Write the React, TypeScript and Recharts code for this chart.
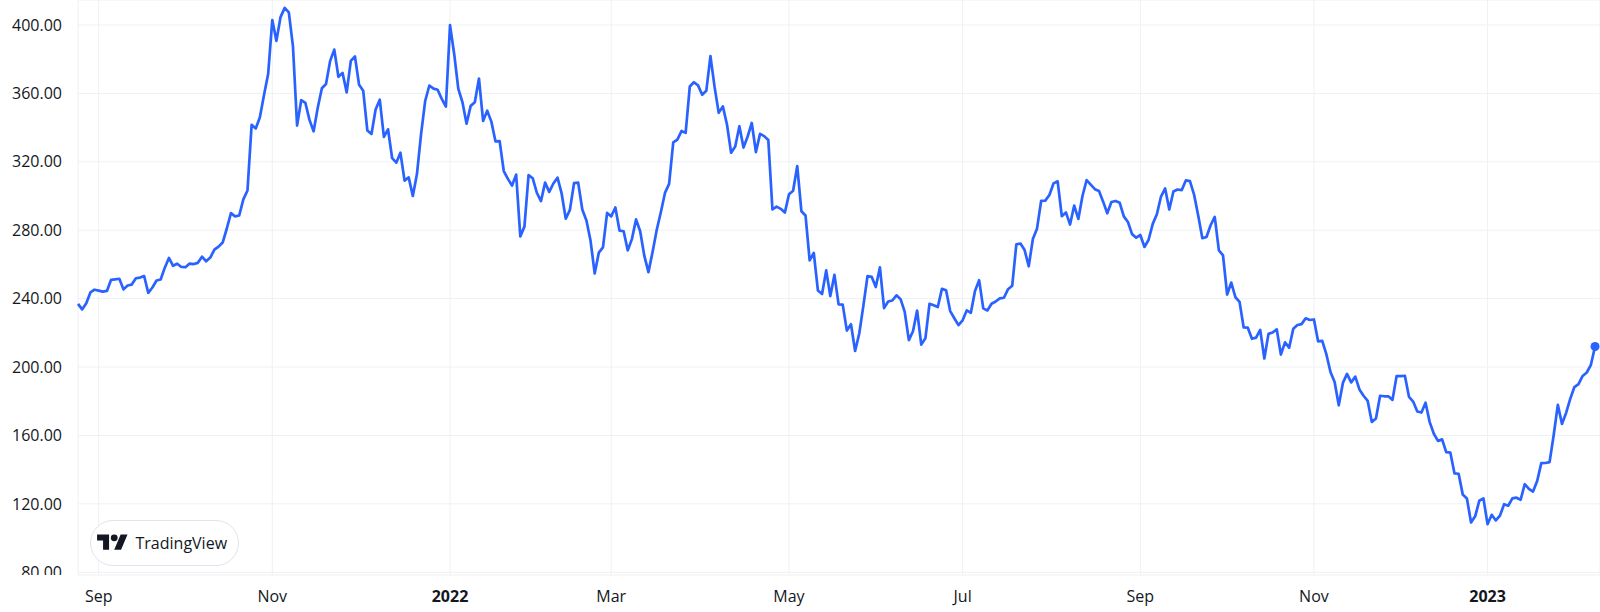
import { LineChart, Line, XAxis, YAxis, CartesianGrid, ReferenceDot } from 'recharts';

// daily closes, one array per month (trading days only)
const aug2021 = [236.9, 233.7, 237.3, 243.6, 245.2];
const sep2021 = [244.7, 244.1, 244.5, 251.0, 251.3, 251.6, 245.4, 247.7, 248.2, 251.9, 252.3, 253.2, 243.4, 246.5, 250.6, 251.2, 258.1, 263.8, 259.2, 260.4, 258.5];
const oct2021 = [258.4, 260.5, 260.2, 260.9, 264.5, 261.8, 264.0, 268.6, 270.4, 272.8, 281.0, 290.0, 288.1, 288.6, 298.0, 303.2, 341.6, 339.5, 346.0, 359.0, 371.3];
const nov2021 = [402.9, 390.7, 404.6, 410.0, 407.4, 387.6, 341.2, 356.0, 354.5, 344.5, 337.8, 351.6, 363.0, 365.5, 379.0, 385.6, 369.7, 372.0, 360.6, 379.0, 381.6];
const dec2021 = [365.0, 361.5, 338.3, 336.3, 350.6, 356.3, 334.6, 339.0, 322.1, 319.5, 325.3, 309.0, 310.9, 300.0, 312.8, 336.3, 355.7, 364.6, 362.8, 362.1, 356.8, 352.3];
const jan2022 = [399.9, 383.2, 362.7, 354.9, 342.3, 352.7, 354.8, 368.7, 343.9, 349.9, 343.5, 331.9, 332.1, 314.6, 310.0, 306.1, 312.5, 276.4, 282.1, 312.2];
const feb2022 = [310.4, 301.9, 297.0, 307.8, 302.4, 307.3, 310.7, 301.5, 286.7, 291.9, 307.5, 307.8, 292.1, 285.7, 273.8, 254.7, 266.9, 270.0, 290.1];
const mar2022 = [288.1, 293.3, 279.8, 279.4, 268.2, 274.8, 286.3, 279.4, 265.1, 255.5, 267.3, 280.1, 290.5, 301.8, 307.1, 331.3, 333.0, 338.0, 336.9, 364.0, 366.5, 364.7, 359.2];
const apr2022 = [361.5, 381.8, 363.8, 348.6, 352.4, 341.8, 325.3, 329.0, 340.8, 328.3, 334.8, 342.7, 325.7, 336.3, 335.0, 332.7, 292.1, 293.8, 292.5, 290.3];
const may2022 = [301.0, 303.1, 317.5, 291.1, 288.6, 262.4, 266.7, 244.7, 242.7, 256.5, 241.5, 253.9, 236.6, 236.5, 221.3, 225.0, 209.4, 219.6, 235.9, 253.2, 252.8];
const jun2022 = [246.8, 258.3, 234.5, 238.3, 238.9, 241.9, 239.7, 232.2, 215.7, 220.9, 233.0, 213.1, 216.8, 237.0, 236.1, 235.1, 245.7, 244.9, 232.7, 228.5, 224.5];
const jul2022 = [227.3, 233.1, 231.7, 244.5, 250.8, 234.3, 233.1, 237.0, 238.3, 240.1, 240.5, 245.5, 247.5, 271.7, 272.2, 268.4, 258.9, 274.8, 280.9, 297.1];
const aug2022 = [297.3, 300.6, 307.4, 308.6, 288.2, 290.4, 283.3, 294.4, 286.6, 300.0, 309.3, 306.6, 304.0, 302.9, 296.7, 289.9, 296.5, 297.1, 296.1, 288.1, 284.8, 277.7, 275.6];
const sep2022 = [277.2, 270.2, 274.4, 283.7, 289.3, 299.7, 304.4, 292.1, 302.6, 303.8, 303.4, 309.1, 308.7, 300.8, 288.6, 275.3, 276.0, 282.9, 287.8, 268.2, 265.3];
const oct2022 = [242.4, 249.4, 240.8, 238.1, 223.1, 223.0, 216.5, 217.2, 221.7, 205.0, 219.4, 220.2, 222.0, 207.3, 214.4, 211.3, 222.4, 224.6, 225.1, 228.5, 227.5];
const nov2022 = [227.8, 215.0, 215.3, 207.5, 197.1, 191.3, 177.6, 190.7, 196.0, 191.0, 194.4, 186.9, 183.2, 180.2, 167.9, 169.9, 183.2, 182.9, 182.9, 180.8, 194.7];
const dec2022 = [194.7, 194.9, 182.5, 179.8, 174.0, 173.4, 179.1, 167.8, 161.0, 156.8, 157.7, 150.2, 149.9, 137.8, 137.6, 125.4, 123.2, 109.1, 112.7, 121.8, 123.2];
const jan2023 = [108.1, 113.6, 110.3, 113.1, 119.8, 118.9, 123.2, 123.6, 122.4, 131.5, 128.8, 127.2, 133.4, 143.8, 143.9, 144.4, 160.3, 177.9, 166.7, 173.2];
const feb2023 = [181.4, 188.3, 190.0, 194.8, 196.8, 201.3, 212.0];

const months = [
  aug2021, sep2021, oct2021, nov2021, dec2021, jan2022, feb2022, mar2022, apr2022, may2022,
  jun2022, jul2022, aug2022, sep2022, oct2022, nov2022, dec2022, jan2023, feb2023,
];
const monthLabels = ['', 'Sep', '', 'Nov', '', '2022', '', 'Mar', '', 'May', '', 'Jul', '', 'Sep', '', 'Nov', '', '2023', ''];
const yTicks = [80, 120, 160, 200, 240, 280, 320, 360, 400];

const closes = months.flat();
const data = closes.map((v, i) => ({ i, v }));
const last = data[data.length - 1];

// x tick = first trading day of each labelled month
const monthStart = months.map((_, k) => months.slice(0, k).reduce((s, m) => s + m.length, 0));
const xTicks = monthStart.filter((_, k) => monthLabels[k] !== '');
const labelAt = new Map(monthStart.map((s, k) => [s, monthLabels[k]]));

const FONT = "'Open Sans', sans-serif";
const TEXT = '#131722';
const BLUE = '#2962FF';

const XTick = ({ x, y, payload }: any) => {
  const label = labelAt.get(payload.value) ?? '';
  const isYear = /^\d{4}$/.test(label);
  return (
    <text x={x} y={y} dy="0.71em" textAnchor="middle" fill={TEXT} fontSize={16}
      fontWeight={isYear ? 700 : 400} fontFamily={FONT}>
      {label}
    </text>
  );
};

const YTick = ({ x, y, payload }: any) => (
  <text x={x} y={y} dy="0.355em" textAnchor="end" fill={TEXT} fontSize={16}
    fontFamily={FONT} clipPath="url(#yLabelClip)">
    {payload.value.toFixed(2)}
  </text>
);

export default function App() {
  return (
    <div style={{ position: 'relative', width: 1600, height: 612, background: '#fff' }}>
      <style>{'body{margin:0}'}</style>
      <svg width={0} height={0} style={{ position: 'absolute' }}>
        <defs>
          <clipPath id="yLabelClip" clipPathUnits="userSpaceOnUse">
            <rect x={0} y={0} width={78} height={575} />
          </clipPath>
        </defs>
      </svg>
      <LineChart width={1600} height={612} data={data} margin={{ top: 0, right: 0, bottom: 0, left: 0 }}>
        <CartesianGrid stroke="#eef0f3" strokeWidth={1} />
        <XAxis
          dataKey="i"
          type="number"
          domain={[0, closes.length + 0.2]}
          ticks={xTicks}
          interval={0}
          height={37}
          tickSize={0}
          tickMargin={16}
          axisLine={false}
          tickLine={false}
          tick={<XTick />}
        />
        <YAxis
          type="number"
          domain={[78.4, 414.6]}
          ticks={yTicks}
          interval={0}
          width={78}
          tickSize={0}
          tickMargin={16}
          axisLine={false}
          tickLine={false}
          tick={<YTick />}
        />
        <Line
          type="linear"
          dataKey="v"
          stroke={BLUE}
          strokeWidth={2.7}
          strokeLinejoin="round"
          dot={false}
          activeDot={false}
          isAnimationActive={false}
        />
        <ReferenceDot x={last.i} y={last.v} r={4.5} fill={BLUE} stroke="none" />
      </LineChart>
      <div
        style={{
          position: 'absolute', left: 90, top: 520, width: 149, height: 46, boxSizing: 'border-box',
          border: '1.5px solid #e0e3eb', borderRadius: 23, background: '#fff',
          display: 'flex', alignItems: 'center',
        }}
      >
        <svg width={31} height={24} viewBox="0 0 36 28" style={{ marginLeft: 5.5 }}>
          <path d="M14 22H7V11H0V4h14v18zM28 22h-8l7.5-18h8L28 22z" fill={TEXT} />
          <circle cx={20} cy={8} r={4} fill={TEXT} />
        </svg>
        <span style={{ marginLeft: 8, fontFamily: FONT, fontSize: 16, fontWeight: 500, color: TEXT }}>
          TradingView
        </span>
      </div>
    </div>
  );
}
